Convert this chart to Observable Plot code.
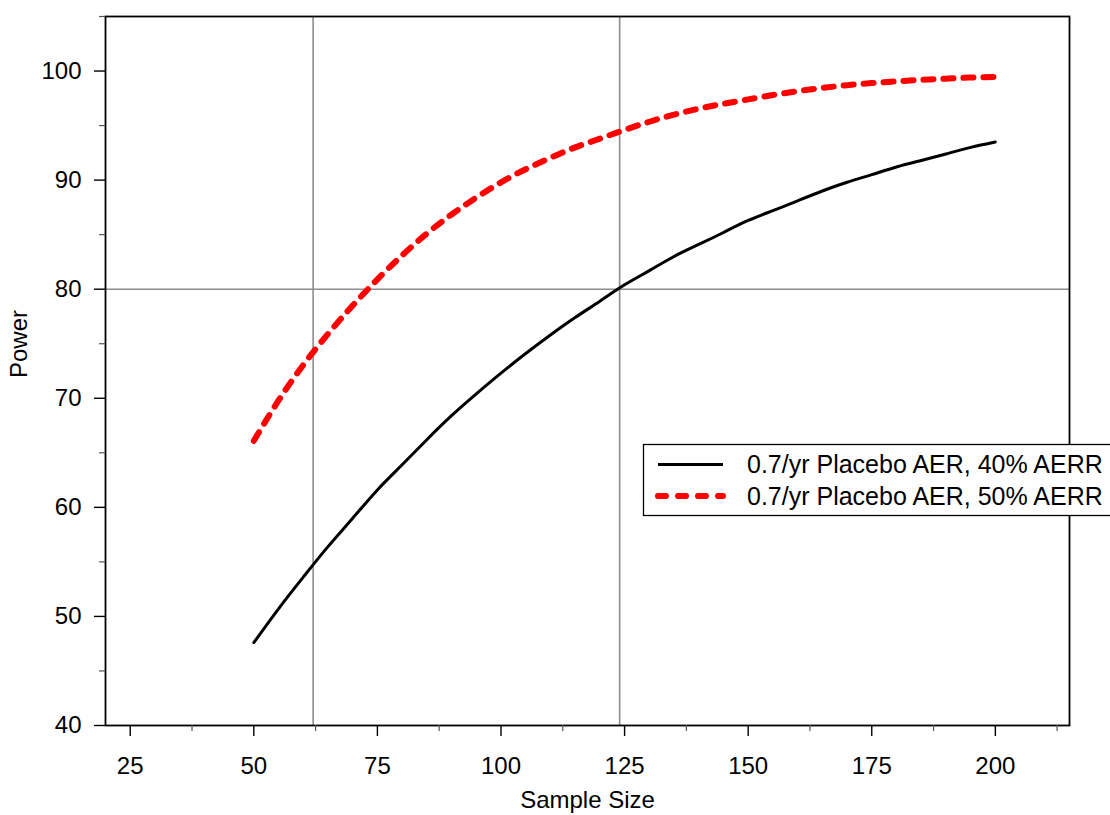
<!DOCTYPE html>
<html>
<head>
<meta charset="utf-8">
<script src="https://cdn.jsdelivr.net/npm/d3@7"></script>
<script src="https://cdn.jsdelivr.net/npm/@observablehq/plot@0.6"></script>
<style>
  html, body { margin: 0; padding: 0; background: #fff; }
  #chart svg { display: block; }
</style>
</head>
<body>
<div id="chart"></div>
<script>
// Sample sizes
const sampleSize = [50, 55, 60, 65, 70, 75, 80, 85, 90, 95, 100, 105, 110, 115, 120, 125, 130, 135, 140, 145, 150, 155, 160, 165, 170, 175, 180, 185, 190, 195, 200];
// Power (%) - 0.7/yr Placebo AER, 40% AERR
const power40 = [47.6, 50.7, 53.6, 56.4, 59.0, 61.6, 63.9, 66.2, 68.4, 70.4, 72.3, 74.1, 75.8, 77.4, 78.9, 80.4, 81.7, 83.0, 84.1, 85.2, 86.3, 87.2, 88.1, 89.0, 89.8, 90.5, 91.2, 91.8, 92.4, 93.0, 93.5];
// Power (%) - 0.7/yr Placebo AER, 50% AERR
const power50 = [66.1, 69.8, 73.05, 75.9, 78.5, 80.9, 83.1, 85.1, 86.85, 88.4, 89.8, 91.0, 92.05, 93.0, 93.8, 94.6, 95.35, 96.0, 96.55, 97.0, 97.4, 97.8, 98.15, 98.45, 98.7, 98.9, 99.05, 99.2, 99.3, 99.4, 99.45];

const seriesNames = ["0.7/yr Placebo AER, 40% AERR", "0.7/yr Placebo AER, 50% AERR"];

// Reference lines
const refX = [62, 124];
const refY = [80];

// Ticks
const xTicks = [25, 50, 75, 100, 125, 150, 175, 200];
const xMinor = [37.5, 62.5, 87.5, 112.5, 137.5, 162.5, 187.5, 212.5];
const yTicks = [40, 50, 60, 70, 80, 90, 100];
const yMinor = [45, 55, 65, 75, 85, 95, 105];

const d40 = sampleSize.map((n, i) => ({n, p: power40[i]}));
const d50 = sampleSize.map((n, i) => ({n, p: power50[i]}));

const font = "'Liberation Sans', Arial, Helvetica, sans-serif";

const chart = Plot.plot({
  width: 1110,
  height: 815,
  marginLeft: 105,
  marginRight: 41,
  marginTop: 16,
  marginBottom: 90,
  style: {fontFamily: font, fontSize: "24px", color: "#000", background: "#fff"},
  x: {domain: [20, 215]},
  y: {domain: [40, 105]},
  marks: [
    Plot.ruleX(refX, {stroke: "#8c8c8c", strokeWidth: 1.6}),
    Plot.ruleY(refY, {stroke: "#8c8c8c", strokeWidth: 1.6}),
    Plot.line(d40, {x: "n", y: "p", stroke: "#000", strokeWidth: 3, curve: "natural"}),
    Plot.line(d50, {x: "n", y: "p", stroke: "#ff0000", strokeWidth: 6, strokeDasharray: "10,10", curve: "natural"}),
    Plot.frame({stroke: "#000", strokeWidth: 1.8}),
    Plot.axisY(yTicks, {tickSize: 11, tickPadding: 13, label: null, stroke: "#000", strokeWidth: 1.4, fontSize: 24}),
    Plot.axisY(yMinor, {tickSize: 6, text: null, label: null, stroke: "#555", strokeWidth: 1.2}),
    Plot.axisX(xTicks, {tickSize: 11, tickPadding: 20, label: null, stroke: "#000", strokeWidth: 1.4, fontSize: 24}),
    Plot.axisX(xMinor, {tickSize: 6, text: null, label: null, stroke: "#555", strokeWidth: 1.2}),
    Plot.text(["Sample Size"], {frameAnchor: "bottom", dy: 82, fontSize: 24, fill: "#000"}),
    Plot.text(["Power"], {frameAnchor: "left", dx: -86, dy: 7, rotate: -90, fontSize: 24, fill: "#000"})
  ]
});

// Legend (drawn on top, partly beyond the frame as in the original)
const svg = d3.select(chart);
const lg = svg.append("g").attr("font-family", font).attr("font-size", 25).attr("text-anchor", "start");
lg.append("rect")
  .attr("x", 643.5).attr("y", 444.5).attr("width", 480).attr("height", 71)
  .attr("fill", "#fff").attr("stroke", "#000").attr("stroke-width", 1.3);
const styles = [
  {stroke: "#000", width: 3, dash: null, y: 464.5},
  {stroke: "#ff0000", width: 6, dash: "8,12", y: 496}
];
styles.forEach((s, i) => {
  const l = lg.append("line")
    .attr("x1", 658).attr("x2", 723).attr("y1", s.y).attr("y2", s.y)
    .attr("stroke", s.stroke).attr("stroke-width", s.width);
  if (s.dash) l.attr("stroke-dasharray", s.dash).attr("stroke-linecap", "round");
  lg.append("text")
    .attr("x", 747).attr("y", s.y).attr("dy", "0.35em")
    .attr("fill", "#000")
    .attr("text-anchor", "start")
    .text(seriesNames[i]);
});

document.getElementById("chart").appendChild(chart);
</script>
</body>
</html>
